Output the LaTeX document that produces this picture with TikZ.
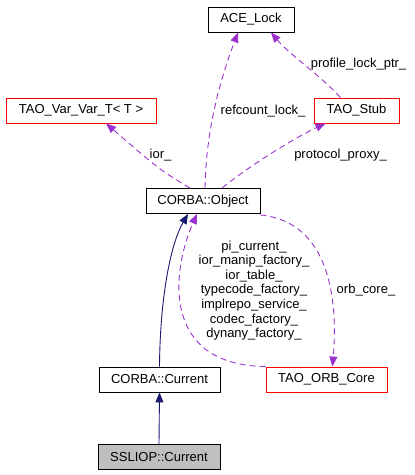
\documentclass[tikz,border=0pt]{standalone}
\usepackage{fontspec}
\setmainfont{Liberation Sans}
\usetikzlibrary{arrows.meta,calc}
\definecolor{usecol}{HTML}{9A32CD}
\definecolor{inhcol}{HTML}{191970}
\tikzset{
  cls/.style={draw=black, line width=0.9pt, minimum height=25pt, inner sep=0pt, font=\fontsize{13}{14.6}\selectfont},
  redcls/.style={cls, draw=red},
  inh/.style={draw=inhcol, line width=0.9pt, -{Triangle[length=10pt,width=8pt]}},
  use/.style={draw=usecol, line width=0.9pt, dash pattern=on 6pt off 4pt, -{Triangle[length=10pt,width=8pt]}},
  lbl/.style={font=\fontsize{13}{14.6}\selectfont, inner sep=0pt, align=center},
}
\begin{document}
\begin{tikzpicture}[x=1pt,y=-1pt]
\useasboundingbox (0,0) rectangle (415,475);
\node[cls, minimum width=86pt] (ace) at (251,19.5) {ACE\_Lock};
\node[redcls, minimum width=150pt] (var) at (81,110.5) {TAO\_Var\_Var\_T\textless{} T \textgreater};
\node[redcls, minimum width=85pt] (stub) at (356.5,110.5) {TAO\_Stub};
\node[cls, minimum width=114pt] (obj) at (203,201) {CORBA::Object};
\node[cls, minimum width=121pt] (cur) at (159.5,379.5) {CORBA::Current};
\node[redcls, minimum width=121pt] (orb) at (326.5,379.5) {TAO\_ORB\_Core};
\node[cls, minimum width=122pt, fill={rgb,255:red,191;green,191;blue,191}] (ssl) at (159,457) {SSLIOP::Current};

% inheritance
\draw[inh] (ssl.north) -- (cur.north |- cur.south);
\draw[inh] (cur.north) .. controls (160,300) and (170,245) .. ([xshift=-15pt]obj.south);

% usage
\draw[use] (orb.north west) .. controls (160,365) and (172,270) .. ([xshift=-6pt]obj.south);
\draw[use] ([yshift=-1pt]obj.south east) .. controls (330,222) and (338,300) .. ([xshift=6pt]orb.north);
\draw[use] ([xshift=-13pt]obj.north) .. controls (160,170) .. ([xshift=25pt]var.south);
\draw[use] ([xshift=2pt]obj.north) .. controls (206,130) and (220,80) .. ([xshift=-13pt]ace.south);
\draw[use] ([xshift=19pt]obj.north) .. controls (250,165) and (300,135) .. ([xshift=-31pt]stub.south);
\draw[use] ([xshift=-16pt]stub.north) .. controls (320,75) and (290,55) .. ([xshift=20pt]ace.south);

% labels
\node[lbl, anchor=base] (l1) at (358.5,67) {profile\_lock\_ptr\_};
\node[lbl, anchor=base] (l2) at (263,114) {refcount\_lock\_};
\node[lbl, anchor=base] (l3) at (160.5,158) {ior\_};
\node[lbl, anchor=base] (l4) at (340.5,158) {protocol\_proxy\_};
\node[lbl] (l5) at (254,290.5) {pi\_current\_\\ior\_manip\_factory\_\\ior\_table\_\\typecode\_factory\_\\implrepo\_service\_\\codec\_factory\_\\dynany\_factory\_};
\node[lbl, anchor=base] (l6) at (366,293) {orb\_core\_};
\end{tikzpicture}
\end{document}
